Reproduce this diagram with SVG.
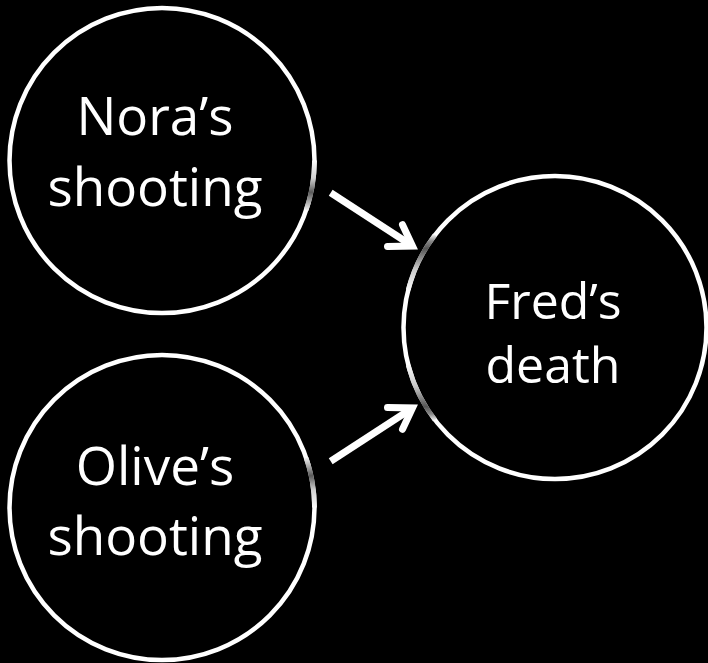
<svg xmlns="http://www.w3.org/2000/svg" width="708" height="663" viewBox="0 0 708 663">
  <style>
    .node { fill: #000; stroke: #fff; stroke-width: 4.5; }
    .fade { fill: none; stroke-width: 4.8; }
    .label { font-family: "Open Sans", "Noto Sans", sans-serif; font-size: 53px; fill: #fff; text-anchor: middle; }
    .small { font-size: 50px; }
    .edge { fill: none; stroke: #fff; stroke-width: 7; }
    .head { fill: none; stroke: #fff; stroke-width: 7; stroke-linecap: round; stroke-linejoin: miter; stroke-miterlimit: 10; }
  </style>
  <defs>
    <linearGradient id="fadeNora" gradientUnits="userSpaceOnUse" x1="0" y1="160" x2="0" y2="212">
      <stop offset="0" stop-color="#fff"/>
      <stop offset="0.35" stop-color="#d0d0d0"/>
      <stop offset="0.62" stop-color="#5a5a5a"/>
      <stop offset="0.82" stop-color="#b0b0b0"/>
      <stop offset="1" stop-color="#fff"/>
    </linearGradient>
    <linearGradient id="fadeOlive" gradientUnits="userSpaceOnUse" x1="0" y1="508" x2="0" y2="456">
      <stop offset="0" stop-color="#fff"/>
      <stop offset="0.35" stop-color="#d0d0d0"/>
      <stop offset="0.62" stop-color="#5a5a5a"/>
      <stop offset="0.82" stop-color="#b0b0b0"/>
      <stop offset="1" stop-color="#fff"/>
    </linearGradient>
    <linearGradient id="fadeFredTop" gradientUnits="userSpaceOnUse" x1="0" y1="234" x2="0" y2="292">
      <stop offset="0" stop-color="#fff"/>
      <stop offset="0.12" stop-color="#8a8a8a"/>
      <stop offset="0.25" stop-color="#555"/>
      <stop offset="0.6" stop-color="#c8c8c8"/>
      <stop offset="1" stop-color="#fff"/>
    </linearGradient>
    <linearGradient id="fadeFredBottom" gradientUnits="userSpaceOnUse" x1="0" y1="421" x2="0" y2="363">
      <stop offset="0" stop-color="#fff"/>
      <stop offset="0.12" stop-color="#8a8a8a"/>
      <stop offset="0.25" stop-color="#555"/>
      <stop offset="0.6" stop-color="#c8c8c8"/>
      <stop offset="1" stop-color="#fff"/>
    </linearGradient>
  </defs>
  <rect x="0" y="0" width="708" height="663" fill="#000"/>

  <g id="nora">
    <circle class="node" cx="162" cy="160.5" r="152.5"/>
    <path class="fade" stroke="url(#fadeNora)" d="M314.5,160.5 A152.5,152.5 0 0 1 306.2,210"/>
    <text class="label" x="155" y="135">Nora’s</text>
    <text class="label" x="155" y="206">shooting</text>
  </g>

  <g id="olive">
    <circle class="node" cx="162" cy="507.5" r="152.5"/>
    <path class="fade" stroke="url(#fadeOlive)" d="M306.2,458 A152.5,152.5 0 0 1 314.5,507.5"/>
    <text class="label" x="155" y="485">Olive’s</text>
    <text class="label" x="155" y="555">shooting</text>
  </g>

  <g id="fred">
    <circle class="node" cx="555" cy="327.5" r="151.5"/>
    <path class="fade" stroke="url(#fadeFredTop)" d="M408.2,290 A151.5,151.5 0 0 1 435,235"/>
    <path class="fade" stroke="url(#fadeFredBottom)" d="M435,420 A151.5,151.5 0 0 1 408.2,365"/>
    <text class="label small" x="553" y="319">Fred’s</text>
    <text class="label small" x="553" y="383">death</text>
  </g>

  <g id="connectors">
    <path class="edge" d="M330.7,192.7 L411,245"/>
    <path class="head" d="M402.5,224.7 L412.5,246 L387.5,246.4"/>
    <path class="edge" d="M330.7,461.3 L411,409"/>
    <path class="head" d="M402.5,429.3 L412.5,408 L387.5,407.6"/>
  </g>
</svg>
